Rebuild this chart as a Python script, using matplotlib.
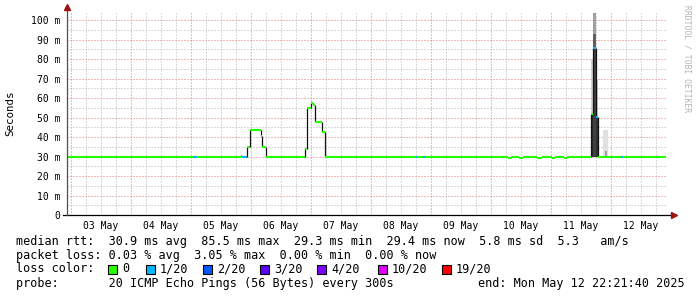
import pandas as pd
import matplotlib
matplotlib.use("Agg")
import matplotlib.pyplot as plt
import matplotlib.dates as mdates
from matplotlib.patches import Rectangle

# ---- data (median rtt as steps: start time, value in ms, loss index) ----
med_time = [
    "2025-05-02 22:21", "2025-05-05 00:53", "2025-05-05 02:14", "2025-05-05 19:58",
    "2025-05-05 20:29", "2025-05-05 22:14", "2025-05-05 23:34", "2025-05-06 03:58",
    "2025-05-06 04:29", "2025-05-06 05:50", "2025-05-06 06:46", "2025-05-06 21:41",
    "2025-05-06 22:29", "2025-05-06 23:58", "2025-05-07 00:38", "2025-05-07 01:34",
    "2025-05-07 04:29", "2025-05-07 05:41", "2025-05-08 17:58", "2025-05-08 18:29",
    "2025-05-08 20:53", "2025-05-08 21:58", "2025-05-10 06:46", "2025-05-10 07:58",
    "2025-05-10 11:10", "2025-05-10 12:46", "2025-05-10 18:22", "2025-05-10 20:22",
    "2025-05-11 00:22", "2025-05-11 01:34", "2025-05-11 05:10", "2025-05-11 06:22",
    "2025-05-11 15:46", "2025-05-11 16:38", "2025-05-11 17:58", "2025-05-11 18:38",
    "2025-05-12 03:58", "2025-05-12 04:46",
]
med_end = "2025-05-12 21:50"
med_value = [
    29.5, 29.5, 29.5, 30.3,
    29.5, 35.0, 43.8, 40.5,
    35.0, 30.0, 29.5, 34.0,
    55.0, 57.6, 56.4, 47.8,
    42.7, 29.5, 29.5, 29.5,
    29.5, 29.5, 29.0, 29.5,
    29.0, 29.5, 29.0, 29.5,
    29.0, 29.5, 29.0, 29.5,
    52.0, 85.5, 50.5, 29.5,
    29.5, 29.5,
]
med_loss = [
    0, 1, 0, 1,
    1, 0, 0, 0,
    0, 0, 0, 0,
    0, 0, 0, 0,
    0, 0, 1, 0,
    1, 0, 0, 0,
    0, 0, 0, 0,
    0, 0, 0, 0,
    0, 1, 1, 0,
    1, 0,
]

# smoke (spread of individual pings): start, end, low, high, shade
smoke_start = ["2025-05-11 15:46", "2025-05-11 15:46", "2025-05-11 16:38", "2025-05-11 16:38",
               "2025-05-11 16:38", "2025-05-11 17:58", "2025-05-11 17:58", "2025-05-11 20:46",
               "2025-05-11 21:22"]
smoke_end = ["2025-05-11 16:38", "2025-05-11 16:38", "2025-05-11 17:58", "2025-05-11 17:58",
             "2025-05-11 17:58", "2025-05-11 18:38", "2025-05-11 18:38", "2025-05-11 22:46",
             "2025-05-11 22:10"]
smoke_lo = [29.5, 52.0, 29.5, 85.5, 93.0, 29.5, 50.5, 29.5, 29.5]
smoke_hi = [52.0, 80.0, 85.5, 93.0, 103.5, 50.5, 69.0, 43.6, 33.0]
smoke_shade = ["#2a2a2a", "#d0d0d0", "#404040", "#606060", "#a0a0a0",
               "#303030", "#c8c8c8", "#e0e0e0", "#a0a0a0"]

loss_labels = ["0", "1/20", "2/20", "3/20", "4/20", "10/20", "19/20"]
loss_colors = ["#26ff00", "#00b8ff", "#0059ff", "#5e00ff", "#7e00ff", "#dd00ff", "#ff0000"]

t_start = "2025-05-02 22:21:40"
t_end = "2025-05-12 22:21:40"

# ---- figure ----
W, H = 697, 297
fig = plt.figure(figsize=(W / 100, H / 100), dpi=100)
fig.patch.set_facecolor("white")
ax = fig.add_axes([67 / W, (H - 215) / H, 600 / W, (215 - 13) / H])
ax.set_facecolor("white")

x0 = mdates.date2num(pd.Timestamp(t_start))
x1 = mdates.date2num(pd.Timestamp(t_end))
ax.set_xlim(x0, x1)
ax.set_ylim(0, 103.6)

mono = "DejaVu Sans Mono"
dots = (0, (1, 2))

# grid
for t in pd.date_range("2025-05-03", "2025-05-12 18:00", freq="6h"):
    c = "#e07878" if t.hour == 0 else "#b4b4b4"
    ax.axvline(mdates.date2num(t), color=c, lw=0.72, ls=dots, zorder=0)
for v in range(5, 105, 5):
    c = "#e07878" if v % 10 == 0 else "#b4b4b4"
    ax.axhline(v, color=c, lw=0.72, ls=dots, zorder=0)

# smoke
for s, e, lo, hi, sh in zip(smoke_start, smoke_end, smoke_lo, smoke_hi, smoke_shade):
    xs = mdates.date2num(pd.Timestamp(s))
    xe = mdates.date2num(pd.Timestamp(e))
    ax.add_patch(Rectangle((xs, lo), xe - xs, hi - lo, facecolor=sh, edgecolor="none", zorder=1))

# median line: black risers, loss-coloured treads
tx = [mdates.date2num(pd.Timestamp(t)) for t in med_time] + [mdates.date2num(pd.Timestamp(med_end))]
for i in range(1, len(med_value)):
    if abs(med_value[i] - med_value[i - 1]) > 1:
        ax.vlines(tx[i], med_value[i - 1], med_value[i], color="#111111", lw=0.9, zorder=2)
for i, v in enumerate(med_value):
    ax.hlines(v, tx[i], tx[i + 1], color=loss_colors[med_loss[i]], lw=1.5, zorder=3)

# ticks
noons = pd.date_range("2025-05-03 12:00", "2025-05-12 12:00", freq="D")
ax.set_xticks(mdates.date2num(noons))
ax.set_xticklabels([t.strftime("%d %b") for t in noons], fontsize=7, family=mono)
ax.set_yticks(range(0, 101, 10))
ax.set_yticklabels(["0"] + [f"{v} m" for v in range(10, 101, 10)], fontsize=7, family=mono)
ax.tick_params(axis="x", length=0, pad=4.5)
ax.tick_params(axis="y", length=0, pad=5)
for sp in ax.spines.values():
    sp.set_visible(False)

# axis lines with arrows
ax.plot([-0.006, 1.01], [0, 0], transform=ax.transAxes, color="black", lw=0.9, clip_on=False, zorder=4)
ax.plot([0, 0], [0, 1.015], transform=ax.transAxes, color="#505050", lw=0.9, clip_on=False, zorder=4)
ax.plot([1.012], [0], transform=ax.transAxes, marker=">", ms=4.5, color="#a01010", clip_on=False, zorder=5)
ax.plot([0], [1.03], transform=ax.transAxes, marker="^", ms=4.5, color="#a01010", clip_on=False, zorder=5)

fig.text(10 / W, 1 - 113 / H, "Seconds", rotation=90, ha="center", va="center",
         fontsize=7.8, family=mono)
fig.text(687 / W, 1 - 5 / H, "RRDTOOL / TOBI OETIKER", rotation=270, ha="center", va="top",
         fontsize=5.8, family=mono, color="#b4b4b4")

# legend block
fs = 8.5
rows = [
    (241, "median rtt:  30.9 ms avg  85.5 ms max  29.3 ms min  29.4 ms now  5.8 ms sd  5.3   am/s"),
    (255, "packet loss: 0.03 % avg  3.05 % max  0.00 % min  0.00 % now"),
    (269, "loss color:"),
    (283, "probe:       20 ICMP Echo Pings (56 Bytes) every 300s"),
]
for y, s in rows:
    fig.text(16 / W, 1 - y / H, s, ha="left", va="center", fontsize=fs, family=mono)
fig.text(478 / W, 1 - 283 / H, "end: Mon May 12 22:21:40 2025", ha="left", va="center",
         fontsize=fs, family=mono)

box_x = [108, 146, 203, 260, 317, 377.5, 442]
for bx, lab, col in zip(box_x, loss_labels, loss_colors):
    fig.patches.append(Rectangle((bx / W, 1 - 274 / H), 9 / W, 9 / H, transform=fig.transFigure,
                                 facecolor=col, edgecolor="black", lw=0.8))
    fig.text((bx + 14) / W, 1 - 269 / H, lab, ha="left", va="center", fontsize=fs, family=mono)

fig.savefig("out.png", dpi=100, facecolor="white")
